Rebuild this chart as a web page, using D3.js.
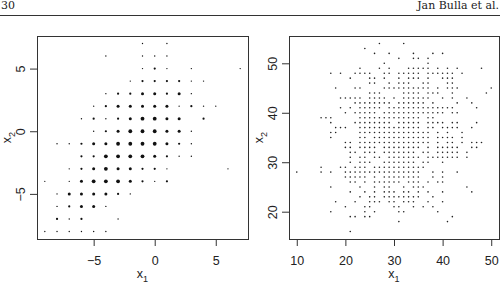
<!DOCTYPE html>
<html>
<head>
<meta charset="utf-8">
<script src="https://cdn.jsdelivr.net/npm/d3@7"></script>
<style>
  html, body { margin: 0; padding: 0; background: #fff; }
  svg { display: block; }
  text { font-family: "Liberation Sans", Arial, sans-serif; fill: #222; }
  .hdr { font-family: "DejaVu Serif", "Liberation Serif", serif; }
</style>
</head>
<body>
<svg id="chart" width="502" height="286"></svg>
<script>
// left panel: rounded (x1, x2) cells with how heavy the dot looks (1 = lone point .. 4 = many)
const leftCells = [
  [-1, 7, 1], [1, 7, 1],
  [-4, 6, 1], [-1, 6, 1], [0, 6, 1], [1, 6, 1],
  [-1, 5, 1], [0, 5, 2], [1, 5, 1], [3, 5, 1], [7, 5, 1],
  [-2, 4, 1], [-1, 4, 2], [0, 4, 2], [1, 4, 2], [2, 4, 2], [3, 4, 1], [4, 4, 1],
  [-4, 3, 1], [-3, 3, 2], [-2, 3, 2], [-1, 3, 3], [0, 3, 3], [1, 3, 2], [2, 3, 3], [3, 3, 1],
  [-5, 2, 1], [-4, 2, 2], [-3, 2, 3], [-2, 2, 3], [-1, 2, 3], [0, 2, 3], [1, 2, 3], [2, 2, 1], [3, 2, 2], [4, 2, 1], [5, 2, 1],
  [-6, 1, 1], [-5, 1, 2], [-4, 1, 1], [-3, 1, 2], [-2, 1, 3], [-1, 1, 4], [0, 1, 4], [1, 1, 3], [2, 1, 3], [4, 1, 2],
  [-5, 0, 1], [-4, 0, 2], [-3, 0, 3], [-2, 0, 4], [-1, 0, 4], [0, 0, 4], [1, 0, 3], [2, 0, 3], [3, 0, 1],
  [-8, -1, 1], [-7, -1, 1], [-6, -1, 2], [-5, -1, 3], [-4, -1, 3], [-3, -1, 4], [-2, -1, 4], [-1, -1, 4], [0, -1, 4], [1, -1, 3], [2, -1, 2], [3, -1, 1],
  [-6, -2, 2], [-5, -2, 2], [-4, -2, 4], [-3, -2, 4], [-2, -2, 4], [-1, -2, 4], [0, -2, 3], [1, -2, 2], [2, -2, 1], [3, -2, 1],
  [-7, -3, 1], [-6, -3, 2], [-5, -3, 3], [-4, -3, 4], [-3, -3, 3], [-2, -3, 3], [-1, -3, 2], [0, -3, 2], [1, -3, 1], [6, -3, 1],
  [-9, -4, 1], [-7, -4, 1], [-6, -4, 3], [-5, -4, 4], [-4, -4, 4], [-3, -4, 4], [-2, -4, 3], [-1, -4, 2], [0, -4, 1], [1, -4, 2],
  [-8, -5, 1], [-7, -5, 3], [-6, -5, 3], [-5, -5, 3], [-4, -5, 3], [-3, -5, 2], [-2, -5, 1],
  [-8, -6, 1], [-7, -6, 2], [-6, -6, 3], [-5, -6, 3], [-4, -6, 1],
  [-8, -7, 2], [-7, -7, 1], [-6, -7, 2], [-3, -7, 1],
  [-9, -8, 1], [-8, -8, 1], [-7, -8, 1], [-6, -8, 1], [-5, -8, 1], [-4, -8, 1]
]

// right panel: each row is [x2, list of x1 values seen on that row]
const rightRows = [
  [54, [27, 32]],
  [53, [24]],
  [52, [26, 29, 34, 38, 40]],
  [51, [31, 34, 35, 37]],
  [50, [28, 37]],
  [49, [23, 27, 29, 33, 34, 35, 36, 37, 39, 41, 43, 48]],
  [48, [17, 19, 22, 23, 24, 25, 28, 29, 31, 32, 33, 34, 35, 37, 38, 39, 40, 41, 42, 44]],
  [47, [21, 25, 26, 28, 31, 33, 34, 35, 37, 40, 41, 42]],
  [46, [25, 26, 29, 31, 32, 33, 36, 37, 41, 42]],
  [45, [18, 22, 23, 28, 29, 30, 31, 32, 33, 34, 35, 36, 37, 39, 41, 42, 43, 50]],
  [44, [25, 26, 27, 32, 33, 34, 35, 37, 38, 39, 42, 49]],
  [43, [19, 20, 21, 22, 23, 25, 26, 27, 28, 30, 32, 33, 34, 35, 36, 37, 40, 42, 45]],
  [42, [22, 23, 24, 25, 26, 27, 28, 29, 31, 32, 33, 34, 35, 36, 38, 43, 46]],
  [41, [19, 21, 23, 24, 25, 26, 27, 29, 30, 31, 32, 33, 34, 35, 36, 37, 38, 39, 40, 41, 42, 47]],
  [40, [20, 22, 23, 24, 25, 26, 28, 29, 30, 31, 32, 33, 34, 35, 36, 37, 38, 39, 40, 42, 43]],
  [39, [15, 16, 17, 23, 24, 25, 26, 27, 28, 29, 30, 31, 32, 33, 34, 35, 37, 38]],
  [38, [17, 22, 23, 24, 25, 26, 27, 28, 29, 31, 32, 33, 34, 35, 37, 38, 39, 40, 42, 43, 47]],
  [37, [18, 19, 20, 23, 24, 25, 26, 27, 28, 29, 30, 31, 32, 33, 34, 35, 37, 38, 40, 41, 42, 43, 46]],
  [36, [17, 18, 23, 24, 25, 26, 27, 28, 29, 30, 31, 32, 33, 34, 35, 36, 37, 39, 41, 44]],
  [35, [17, 23, 24, 26, 27, 28, 29, 30, 31, 32, 33, 34, 35, 36, 37, 39, 40, 41, 42, 44]],
  [34, [20, 21, 23, 24, 25, 26, 27, 28, 29, 30, 31, 32, 33, 34, 35, 36, 37, 39, 41, 42, 44, 46, 47, 48]],
  [33, [20, 21, 23, 24, 25, 26, 28, 29, 30, 31, 32, 33, 34, 35, 37, 39, 40, 41, 42, 43, 46, 47]],
  [32, [21, 22, 24, 25, 26, 28, 29, 30, 31, 32, 33, 34, 36, 37, 39, 40, 41, 42, 43, 45]],
  [31, [21, 23, 24, 26, 27, 29, 30, 31, 32, 33, 34, 35, 37, 38, 39, 40, 41, 42, 43, 45]],
  [30, [21, 23, 24, 25, 28, 29, 30, 31, 32, 33, 34, 36, 37, 40]],
  [29, [15, 19, 20, 22, 23, 24, 26, 27, 28, 29, 30, 31, 32, 33, 34, 35, 36]],
  [28, [10, 15, 17, 20, 21, 22, 23, 24, 25, 26, 27, 28, 29, 30, 31, 32, 33, 34, 35, 38, 40, 43]],
  [27, [20, 21, 22, 23, 24, 26, 28, 29, 30, 31, 32, 33, 34, 35, 38, 40]],
  [26, [21, 22, 24, 26, 27, 28, 29, 30, 31, 33, 34, 35, 37, 39, 40]],
  [25, [17, 23, 26, 28, 29, 32, 34, 35, 36, 45]],
  [24, [21, 24, 26, 28, 29, 30, 32, 33, 35, 37, 40, 46]],
  [23, [23, 25, 26, 28, 29, 30, 31, 32, 33, 34, 35, 38]],
  [22, [18, 22, 25, 26, 27, 29, 30, 32, 33, 34, 37, 40]],
  [21, [20, 24, 25, 30, 31, 34, 36, 38]],
  [20, [17, 24, 26, 31, 32, 39]],
  [19, [21, 22, 24, 25, 42]],
  [18, [31, 41]],
  [16, [21]]
]

const leftXTicks = [-5, 0, 5]
const leftYTicks = [-5, 0, 5]
const rightXTicks = [10, 20, 30, 40, 50]
const rightYTicks = [20, 30, 40, 50]

const headerLeft = '30'
const headerRight = 'Jan Bulla et al.'

const svg = d3.select('#chart')

// running header with rule
svg.append('text').attr('class', 'hdr')
  .attr('x', 1).attr('y', 8.5)
  .attr('font-size', '11px')
  .text(headerLeft)
svg.append('text').attr('class', 'hdr')
  .attr('x', 499).attr('y', 8.5)
  .attr('text-anchor', 'end')
  .attr('font-size', '11px')
  .text(headerRight)
svg.append('line')
  .attr('x1', 0).attr('x2', 500)
  .attr('y1', 15.5).attr('y2', 15.5)
  .attr('stroke', '#333').attr('stroke-width', 1)

const minus = d => String(d).replace('-', '\u2212')

// R style: pad the data range by 4% on each side
function padded (ext) {
  const d = (ext[1] - ext[0]) * 0.04
  return [ext[0] - d, ext[1] + d]
}

function drawPanel (g, xScale, yScale, xTicks, yTicks) {
  const [x0, x1] = xScale.range()
  const [y0, y1] = yScale.range()

  g.append('g')
    .attr('transform', `translate(0,${y0})`)
    .call(d3.axisBottom(xScale).tickValues(xTicks).tickSize(7).tickPadding(10).tickSizeOuter(0).tickFormat(minus))
    .call(ax => ax.select('.domain').remove())

  const yAx = g.append('g')
    .attr('transform', `translate(${x0},0)`)
    .call(d3.axisLeft(yScale).tickValues(yTicks).tickSize(7).tickSizeOuter(0).tickFormat(minus))
  yAx.select('.domain').remove()
  yAx.selectAll('.tick text')
    .attr('transform', 'rotate(-90)')
    .attr('x', 0).attr('y', -12).attr('dy', 0)
    .attr('text-anchor', 'middle')

  g.selectAll('.tick line').attr('stroke', '#333')
  g.selectAll('.tick text').attr('font-size', '12.5px').attr('fill', '#222')
    .attr('font-family', '"Liberation Sans", Arial, sans-serif')

  g.append('rect')
    .attr('x', x0 + 0.5).attr('y', y1 + 0.5)
    .attr('width', x1 - x0).attr('height', y0 - y1)
    .attr('fill', 'none').attr('stroke', '#333').attr('stroke-width', 1)

  // axis titles with subscripts
  const xt = g.append('text')
    .attr('x', (x0 + x1) / 2).attr('y', 278)
    .attr('text-anchor', 'middle')
    .attr('font-size', '12.5px')
  xt.append('tspan').text('x')
  xt.append('tspan').attr('font-size', '9px').attr('dy', 4).text('1')

  const yt = g.append('text')
    .attr('transform', `translate(${x0 - 26},${(y0 + y1) / 2}) rotate(-90)`)
    .attr('text-anchor', 'middle')
    .attr('font-size', '12.5px')
  yt.append('tspan').text('x')
  yt.append('tspan').attr('font-size', '9px').attr('dy', 4).text('2')
}

// left panel
const xL = d3.scaleLinear()
  .domain(padded(d3.extent(leftCells, d => d[0])))
  .range([37, 248])
const yL = d3.scaleLinear()
  .domain(padded(d3.extent(leftCells, d => d[1])))
  .range([239, 36])
const rL = d3.scaleLinear().domain([1, 4]).range([0.7, 1.9])

const gL = svg.append('g')
drawPanel(gL, xL, yL, leftXTicks, leftYTicks)
gL.append('g').selectAll('circle')
  .data(leftCells)
  .join('circle')
  .attr('cx', d => xL(d[0]))
  .attr('cy', d => yL(d[1]))
  .attr('r', d => rL(d[2]))
  .attr('fill', '#111')

// right panel
const rightPts = rightRows.flatMap(([y, xs]) => xs.map(x => [x, y]))
const xR = d3.scaleLinear()
  .domain(padded(d3.extent(rightPts, d => d[0])))
  .range([289, 499])
const yR = d3.scaleLinear()
  .domain(padded(d3.extent(rightPts, d => d[1])))
  .range([239, 36])

const gR = svg.append('g')
drawPanel(gR, xR, yR, rightXTicks, rightYTicks)
gR.append('g').selectAll('circle')
  .data(rightPts)
  .join('circle')
  .attr('cx', d => xR(d[0]))
  .attr('cy', d => yR(d[1]))
  .attr('r', 0.8)
  .attr('fill', '#222')
</script>
</body>
</html>
